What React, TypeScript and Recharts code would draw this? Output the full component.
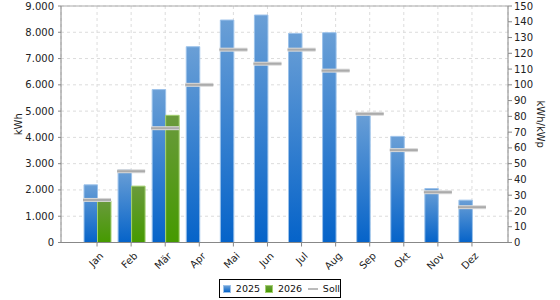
import React from 'react';
import { ComposedChart, Bar, Scatter, XAxis, YAxis, CartesianGrid, ReferenceLine } from 'recharts';

const months = ['Jan', 'Feb', 'Mär', 'Apr', 'Mai', 'Jun', 'Jul', 'Aug', 'Sep', 'Okt', 'Nov', 'Dez'];
const y2025 = [2195, 2767, 5820, 7450, 8466, 8656, 7958, 7985, 4931, 4038, 2053, 1611];
const y2026: (number | null)[] = [1584, 2145, 4840, null, null, null, null, null, null, null, null, null];
const soll = [27, 45.2, 72.5, 100, 122.3, 113.4, 122.3, 109, 81.6, 58.6, 31.9, 22.4];
const leftTicks = [0, 1000, 2000, 3000, 4000, 5000, 6000, 7000, 8000, 9000];
const rightTicks = [0, 10, 20, 30, 40, 50, 60, 70, 80, 90, 100, 110, 120, 130, 140, 150];

const data = months.map((m, i) => ({ m, a: y2025[i], b: y2026[i], s: soll[i] }));

const FONT = '"DejaVu Sans", sans-serif';

const fmt = (v: number) => {
  if (v === 0) return '0';
  const k = Math.floor(v / 1000);
  const r = v % 1000;
  return `${k}.${String(r).padStart(3, '0')}`;
};

const XTick = (props: any) => {
  const { x, y, payload } = props;
  const px = x + 2;
  const py = y + 3;
  return (
    <text x={px} y={py} dy="0.71em" transform={`rotate(-45 ${px} ${py})`} textAnchor="end" fontSize={10} fontFamily={FONT} fill="#222">
      {payload.value}
    </text>
  );
};

const SollShape = (props: any) => {
  const { cx, cy } = props;
  if (cx == null || cy == null) return null;
  return (
    <g>
      <line x1={cx - 14} x2={cx + 14} y1={cy} y2={cy} stroke="#d9d9d9" strokeWidth={4} />
      <line x1={cx - 14} x2={cx + 14} y1={cy} y2={cy} stroke="#ababab" strokeWidth={2} />
    </g>
  );
};

export default function App() {
  return (
    <div style={{ position: 'absolute', left: 0, top: 0, width: 560, height: 300, fontFamily: FONT }}>
      <ComposedChart
        width={560}
        height={300}
        data={data}
        margin={{ top: 6, right: 0, bottom: 22.5, left: 0 }}
        barGap={0}
      >
        <defs>
          <linearGradient id="gBlue" x1="0" y1="0" x2="0" y2="1">
            <stop offset="0%" stopColor="#6a9fd6" />
            <stop offset="100%" stopColor="#0563c9" />
          </linearGradient>
          <linearGradient id="gGreen" x1="0" y1="0" x2="0" y2="1">
            <stop offset="0%" stopColor="#6a9a3c" />
            <stop offset="100%" stopColor="#459a00" />
          </linearGradient>
        </defs>
        <CartesianGrid yAxisId="left" stroke="#dcdcdc" strokeDasharray="3 3" />
        <XAxis
          dataKey="m"
          padding={{ left: 19, right: 19 }}
          height={35}
          tick={<XTick />}
          tickSize={4}
          axisLine={{ stroke: '#888' }}
          tickLine={{ stroke: '#888' }}
          interval={0}
        />
        <YAxis
          yAxisId="left"
          orientation="left"
          width={61}
          domain={[0, 9000]}
          ticks={leftTicks}
          tickFormatter={fmt}
          tickSize={3}
          tickMargin={4}
          axisLine={{ stroke: '#888' }}
          tickLine={{ stroke: '#888' }}
          tick={{ fontSize: 10, fontFamily: FONT, fill: '#222' }}
          interval={0}
          label={(p: any) => {
            const vb = p.viewBox;
            const cx = 18.5;
            const cy = vb.y + vb.height / 2;
            return (
              <text x={cx} y={cy} transform={`rotate(-90 ${cx} ${cy})`} textAnchor="middle" dominantBaseline="central" fontSize={10} fontFamily={FONT} fill="#222">
                kWh
              </text>
            );
          }}
        />
        <YAxis
          yAxisId="right"
          orientation="right"
          width={52}
          domain={[0, 150]}
          ticks={rightTicks}
          tickSize={4}
          tickMargin={2}
          axisLine={{ stroke: '#888' }}
          tickLine={{ stroke: '#888' }}
          tick={{ fontSize: 10, fontFamily: FONT, fill: '#222' }}
          interval={0}
          label={(p: any) => {
            const vb = p.viewBox;
            const cx = 540;
            const cy = vb.y + vb.height / 2;
            return (
              <text x={cx} y={cy} transform={`rotate(90 ${cx} ${cy})`} textAnchor="middle" dominantBaseline="central" fontSize={10} fontFamily={FONT} fill="#222">
                kWh/kWp
              </text>
            );
          }}
        />
        <ReferenceLine yAxisId="left" y={9000} stroke="#aaa" />
        <Bar yAxisId="left" dataKey="a" barSize={13.5} fill="url(#gBlue)" stroke="#9cc2ea" strokeWidth={1} isAnimationActive={false} />
        <Bar yAxisId="left" dataKey="b" barSize={13.5} fill="url(#gGreen)" stroke="#a3d070" strokeWidth={1} isAnimationActive={false} />
        <Scatter yAxisId="right" dataKey="s" shape={<SollShape />} isAnimationActive={false} />
      </ComposedChart>
      <div
        style={{
          position: 'absolute',
          left: 219,
          top: 279,
          width: 120,
          height: 17,
          border: '1px solid #000',
          display: 'flex',
          alignItems: 'center',
          fontSize: 9.5,
          fontFamily: FONT,
          color: '#111',
          boxSizing: 'content-box',
        }}
      >
        <span style={{ display: 'inline-block', width: 8, height: 8, marginLeft: 3, background: 'linear-gradient(#6a9fd6, #0563c9)', border: '1px solid #9cc2ea', boxSizing: 'border-box' }} />
        <span style={{ marginLeft: 5 }}>2025</span>
        <span style={{ display: 'inline-block', width: 8, height: 8, marginLeft: 5, background: 'linear-gradient(#6a9a3c, #459a00)', border: '1px solid #a3d070', boxSizing: 'border-box' }} />
        <span style={{ marginLeft: 5 }}>2026</span>
        <span style={{ display: 'inline-block', width: 10, height: 2, marginLeft: 6, background: '#bbb' }} />
        <span style={{ marginLeft: 5 }}>Soll</span>
      </div>
    </div>
  );
}
